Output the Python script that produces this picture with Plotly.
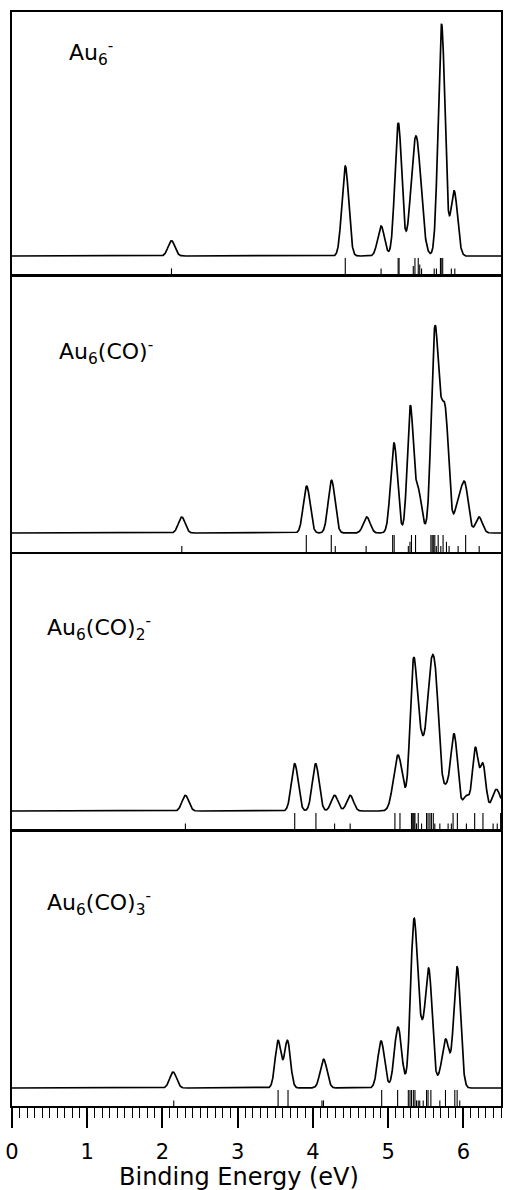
import numpy as np
import plotly.graph_objects as go

# ---------------- data ----------------
panel_labels = [
    "Au<sub>6</sub><sup>-</sup>",
    "Au<sub>6</sub>(CO)<sup>-</sup>",
    "Au<sub>6</sub>(CO)<sub>2</sub><sup>-</sup>",
    "Au<sub>6</sub>(CO)<sub>3</sub><sup>-</sup>",
]
x_title = "Binding Energy (eV)"

# simulated spectrum peaks: centre (eV), height (arb. units), gaussian width (eV)
p1_centers = [2.12, 4.43, 4.906, 5.135, 5.37, 5.71, 5.877]
p1_heights = [15.3, 90.0, 30.0, 133.0, 120.0, 232.0, 65.0]
p1_widths = [0.045, 0.045, 0.045, 0.045, 0.065, 0.045, 0.045]

p2_centers = [2.257, 3.917, 4.248, 4.715, 5.078, 5.294, 5.40, 5.616, 5.69, 5.765, 5.93, 6.02, 6.208]
p2_heights = [16.0, 47.0, 52.7, 16.0, 90.0, 125.0, 42.0, 186.0, 70.0, 105.0, 29.7, 47.0, 16.0]
p2_widths = [0.045, 0.045, 0.045, 0.045, 0.045, 0.04, 0.045, 0.045, 0.045, 0.045, 0.045, 0.045, 0.045]

p3_centers = [2.305, 3.758, 4.036, 4.288, 4.495, 5.131, 5.334, 5.42, 5.575, 5.65, 5.77, 5.877,
              6.04, 6.159, 6.26, 6.43, 6.50]
p3_heights = [15.7, 47.3, 47.3, 15.7, 15.7, 56.0, 138.0, 60.0, 140.0, 48.0, 20.0, 76.0,
              15.0, 62.0, 46.0, 20.0, 5.0]
p3_widths = [0.045, 0.045, 0.045, 0.045, 0.045, 0.06, 0.045, 0.05, 0.065, 0.045, 0.045, 0.045,
             0.045, 0.038, 0.038, 0.05, 0.045]

p4_centers = [2.142, 3.537, 3.661, 4.142, 4.906, 5.131, 5.343, 5.44, 5.541, 5.687, 5.767, 5.917]
p4_heights = [16.0, 47.3, 47.3, 28.7, 47.0, 61.0, 165.0, 45.0, 116.0, 8.0, 47.0, 121.0]
p4_widths = [0.045, 0.04, 0.04, 0.045, 0.045, 0.048, 0.045, 0.045, 0.045, 0.045, 0.045, 0.045]

# calculated levels (sticks): energy (eV), relative stick height
s1_energy = [2.12, 4.43, 4.906, 5.133, 5.145, 5.334, 5.356, 5.40, 5.42, 5.444, 5.612, 5.642,
             5.695, 5.705, 5.725, 5.84, 5.886]
s1_height = [0.35, 1, 0.35, 1, 1, 0.5, 1, 1, 0.6, 0.35, 0.35, 0.35, 1, 1, 1, 0.35, 0.35]

s2_energy = [2.257, 3.912, 4.244, 4.297, 4.707, 5.06, 5.08, 5.268, 5.29, 5.31, 5.364, 5.568,
             5.585, 5.60, 5.62, 5.64, 5.665, 5.70, 5.73, 5.775, 5.81, 5.93, 6.03, 6.21]
s2_height = [0.35, 1, 1, 0.35, 0.35, 1, 1, 0.35, 0.6, 1, 1, 1, 1, 1, 1, 0.35, 1, 0.35, 1, 0.6,
             0.35, 0.35, 1, 0.35]

s3_energy = [2.305, 3.758, 4.04, 4.288, 4.495, 5.09, 5.157, 5.31, 5.32, 5.333, 5.345, 5.356,
             5.377, 5.40, 5.444, 5.51, 5.53, 5.555, 5.575, 5.60, 5.62, 5.687, 5.797, 5.84,
             5.863, 5.92, 6.04, 6.15, 6.26, 6.395, 6.45, 6.495]
s3_height = [0.35, 1, 1, 0.35, 0.35, 1, 1, 1, 1, 1, 1, 1, 0.35, 1, 0.35, 1, 1, 1, 1, 1, 0.35,
             0.35, 0.35, 0.35, 1, 1, 0.35, 1, 1, 0.35, 0.35, 1]

s4_energy = [2.15, 3.537, 3.669, 4.12, 4.14, 4.914, 5.126, 5.268, 5.29, 5.31, 5.335, 5.356,
             5.377, 5.40, 5.42, 5.466, 5.51, 5.53, 5.568, 5.687, 5.762, 5.886, 5.917, 5.952]
s4_height = [0.35, 1, 1, 0.35, 0.35, 1, 1, 1, 1, 1, 1, 1, 0.35, 0.35, 0.35, 0.35, 1, 1, 1,
             0.35, 1, 1, 1, 0.35]

x_ticks = [0, 1, 2, 3, 4, 5, 6]
x_range = [0, 6.5]

peaks = [
    (p1_centers, p1_heights, p1_widths),
    (p2_centers, p2_heights, p2_widths),
    (p3_centers, p3_heights, p3_widths),
    (p4_centers, p4_heights, p4_widths),
]
sticks = [(s1_energy, s1_height), (s2_energy, s2_height), (s3_energy, s3_height), (s4_energy, s4_height)]

# ---------------- layout geometry ----------------
W, H = 505, 1190
M_T, M_B, M_L, M_R = 12, 84, 12, 2
PLOT_H = H - M_T - M_B
PLOT_W = W - M_L - M_R
BOTTOM_PX = H - M_B
# (top px, bottom px, baseline px, label x px, label y px)
panels_px = [
    (12, 274, 256, 67, 53),
    (277, 552, 533, 57, 352),
    (554, 829, 811, 45, 628),
    (832, 1106, 1088, 45, 903),
]
PX_PER_UNIT = 1.0
FONT = "DejaVu Sans"

fig = go.Figure()
grid = np.linspace(x_range[0], x_range[1], 2601)

for i, ((cen, hgt, wid), (se, sh), geo) in enumerate(zip(peaks, sticks, panels_px)):
    top, bot, base, lx, ly = geo
    ax = "" if i == 0 else str(i + 1)
    b_units = (bot - base) / PX_PER_UNIT
    t_units = (base - top) / PX_PER_UNIT
    stick_full = (bot - base - 2) / PX_PER_UNIT

    curve = np.zeros_like(grid)
    for c, h, w in zip(cen, hgt, wid):
        curve += h * np.exp(-((grid - c) ** 2) / (2 * w * w))

    fig.add_trace(go.Scatter(x=grid, y=curve, mode="lines",
                             line=dict(color="black", width=1.7),
                             xaxis="x" + ax, yaxis="y" + ax, showlegend=False,
                             hoverinfo="skip"))
    sx, sy = [], []
    for e, h in zip(se, sh):
        sx += [e, e, None]
        sy += [-b_units, -b_units + h * stick_full, None]
    fig.add_trace(go.Scatter(x=sx, y=sy, mode="lines",
                             line=dict(color="black", width=1.1),
                             xaxis="x" + ax, yaxis="y" + ax, showlegend=False,
                             hoverinfo="skip"))

    dom = [(BOTTOM_PX - bot) / PLOT_H, (BOTTOM_PX - top) / PLOT_H]
    is_bottom = i == 3
    xa = dict(domain=[0, 1], range=x_range, anchor="y" + ax,
              showline=True, linecolor="black", linewidth=1.6, mirror=True,
              showgrid=False, zeroline=False,
              showticklabels=is_bottom, ticks="outside" if is_bottom else "")
    if is_bottom:
        xa.update(tickvals=x_ticks, ticklen=20, tickwidth=1.6, tickcolor="black",
                  ticklabelstandoff=6,
                  tickfont=dict(family=FONT, size=21, color="black"),
                  minor=dict(dtick=0.1, ticks="outside", ticklen=10, tickwidth=1.3,
                             tickcolor="black", showgrid=False))
    ya = dict(domain=dom, range=[-b_units, t_units], anchor="x" + ax,
              showline=True, linecolor="black", linewidth=1.6, mirror=True,
              showgrid=False, zeroline=False, showticklabels=False, ticks="")
    fig.layout["xaxis" + ax] = xa
    fig.layout["yaxis" + ax] = ya

    fig.add_annotation(text=panel_labels[i], xref="paper", yref="paper",
                       x=(lx - M_L) / PLOT_W, y=(BOTTOM_PX - ly) / PLOT_H,
                       xanchor="left", yanchor="middle", showarrow=False,
                       font=dict(family=FONT, size=22, color="black"))

# x-axis title
fig.add_annotation(text=x_title, xref="paper", yref="paper",
                   x=(240 - M_L) / PLOT_W, y=(BOTTOM_PX - 1177) / PLOT_H,
                   xanchor="center", yanchor="middle", showarrow=False,
                   font=dict(family=FONT, size=24, color="black"))

fig.update_layout(width=W, height=H, margin=dict(l=M_L, r=M_R, t=M_T, b=M_B),
                  paper_bgcolor="white", plot_bgcolor="white")

fig.write_html("out.html")
